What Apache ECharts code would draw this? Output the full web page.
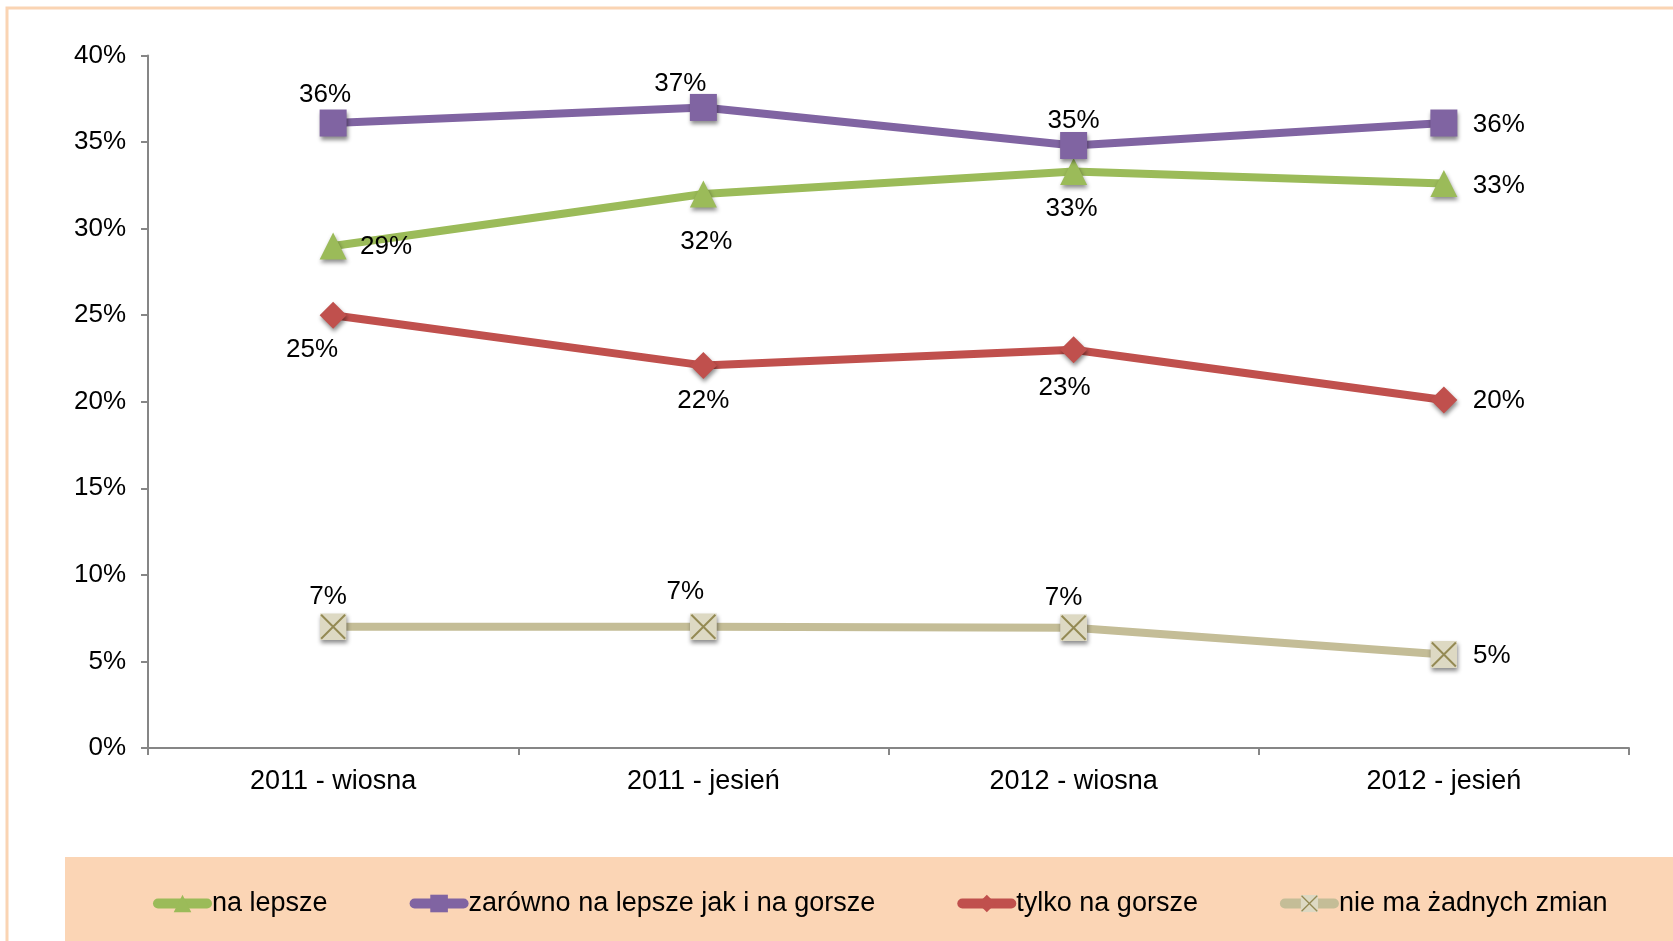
<!DOCTYPE html>
<html lang="pl">
<head>
<meta charset="UTF-8">
<title>Zmiany</title>
<script src="https://cdn.jsdelivr.net/npm/echarts@6/dist/echarts.min.js"></script>
<style>
    html, body { margin: 0; padding: 0; background: #fff; }
    #chart { width: 1673px; height: 941px; }
</style>
</head>
<body>
<div id="chart"></div>
<script>
    // dane
    var categories = ['2011 - wiosna', '2011 - jesień', '2012 - wiosna', '2012 - jesień'];
    var naLepsze = [29.0, 32.0, 33.3, 32.6];
    var zarowno = [36.1, 37.0, 34.8, 36.1];
    var tylkoGorsze = [25.0, 22.1, 23.0, 20.1];
    var brakZmian = [7.0, 7.0, 6.95, 5.4];
    var names = ['na lepsze', 'zarówno na lepsze jak i na gorsze', 'tylko na gorsze', 'nie ma żadnych zmian'];

    // przesuniecia etykiet wzgledem punktu
    var shiftGreen = [[53, 1], [3, 48], [-2, 37], [55, 2]];
    var shiftPurple = [[-8, -28], [-23, -24], [0, -25], [55, 2]];
    var shiftRed = [[-21, 35], [0, 35], [-9, 38], [55, 1]];
    var shiftBeige = [[-5, -30], [-18, -35], [-10, -30], [48, 1]];

    var font = "'Liberation Sans', Arial, sans-serif";

    var xSvg = '<svg xmlns="http://www.w3.org/2000/svg" width="54" height="54" viewBox="0 0 54 54">' +
        '<rect x="0" y="0" width="54" height="54" fill="#DDD9C3"/>' +
        '<path d="M3 3 L51 51 M51 3 L3 51" stroke="#948A54" stroke-width="4"/></svg>';
    var xSymbol = 'image://data:image/svg+xml;utf8,' + encodeURIComponent(xSvg);

    function withLabels(values, shifts) {
        var out = [];
        for (var i = 0; i < values.length; i++) {
            out.push({
                value: values[i],
                label: { show: true, position: 'inside', offset: shifts[i] }
            });
        }
        return out;
    }

    function makeSeries(name, values, shifts, color, symbol) {
        return {
            name: name,
            type: 'line',
            data: withLabels(values, shifts),
            symbol: symbol,
            symbolSize: 27,
            lineStyle: { color: color, width: 8 },
            itemStyle: {
                color: color,
                shadowColor: 'rgba(0,0,0,0.45)',
                shadowBlur: 4,
                shadowOffsetX: 1,
                shadowOffsetY: 3
            },
            label: {
                show: true,
                color: '#000',
                fontSize: 26,
                fontFamily: font,
                formatter: function (p) { return Math.round(p.value) + '%'; }
            },
            emphasis: { disabled: true },
            animation: false
        };
    }

    var chart = echarts.init(document.getElementById('chart'));
    var option = {
        backgroundColor: '#fff',
        graphic: [
            {
                type: 'rect',
                z: 0,
                shape: { x: 7, y: 8, width: 1720, height: 1000 },
                style: { fill: 'none', stroke: '#FAD4B3', lineWidth: 3 }
            },
            {
                type: 'rect',
                z: 0,
                shape: { x: 65, y: 857, width: 1620, height: 90 },
                style: { fill: '#FBD5B5' }
            }
        ],
        grid: { left: 148, right: 44, top: 55.5, bottom: 193 },
        legend: {
            data: names,
            left: 148,
            top: 885,
            itemWidth: 49,
            itemHeight: 22,
            itemGap: 82,
            lineStyle: { width: 10, cap: 'round' },
            textStyle: { fontSize: 27, fontFamily: font, color: '#000' }
        },
        xAxis: {
            type: 'category',
            data: categories,
            boundaryGap: true,
            axisLine: { lineStyle: { color: '#868686', width: 2 } },
            axisTick: { show: true, length: 7, lineStyle: { color: '#868686', width: 2 } },
            axisLabel: { color: '#000', fontSize: 27, fontFamily: font, margin: 20 }
        },
        yAxis: {
            type: 'value',
            min: 0,
            max: 40,
            interval: 5,
            splitLine: { show: false },
            axisLine: { show: true, lineStyle: { color: '#868686', width: 2 } },
            axisTick: { show: true, length: 7, lineStyle: { color: '#868686', width: 2 } },
            axisLabel: { color: '#000', fontSize: 26, fontFamily: font, margin: 22, formatter: '{value}%' }
        },
        series: [
            makeSeries(names[0], naLepsze, shiftGreen, '#9BBB59', 'triangle'),
            makeSeries(names[1], zarowno, shiftPurple, '#8064A2', 'rect'),
            makeSeries(names[2], tylkoGorsze, shiftRed, '#C0504D', 'diamond'),
            makeSeries(names[3], brakZmian, shiftBeige, '#C4BD97', xSymbol)
        ]
    };
    chart.setOption(option);
</script>
</body>
</html>
